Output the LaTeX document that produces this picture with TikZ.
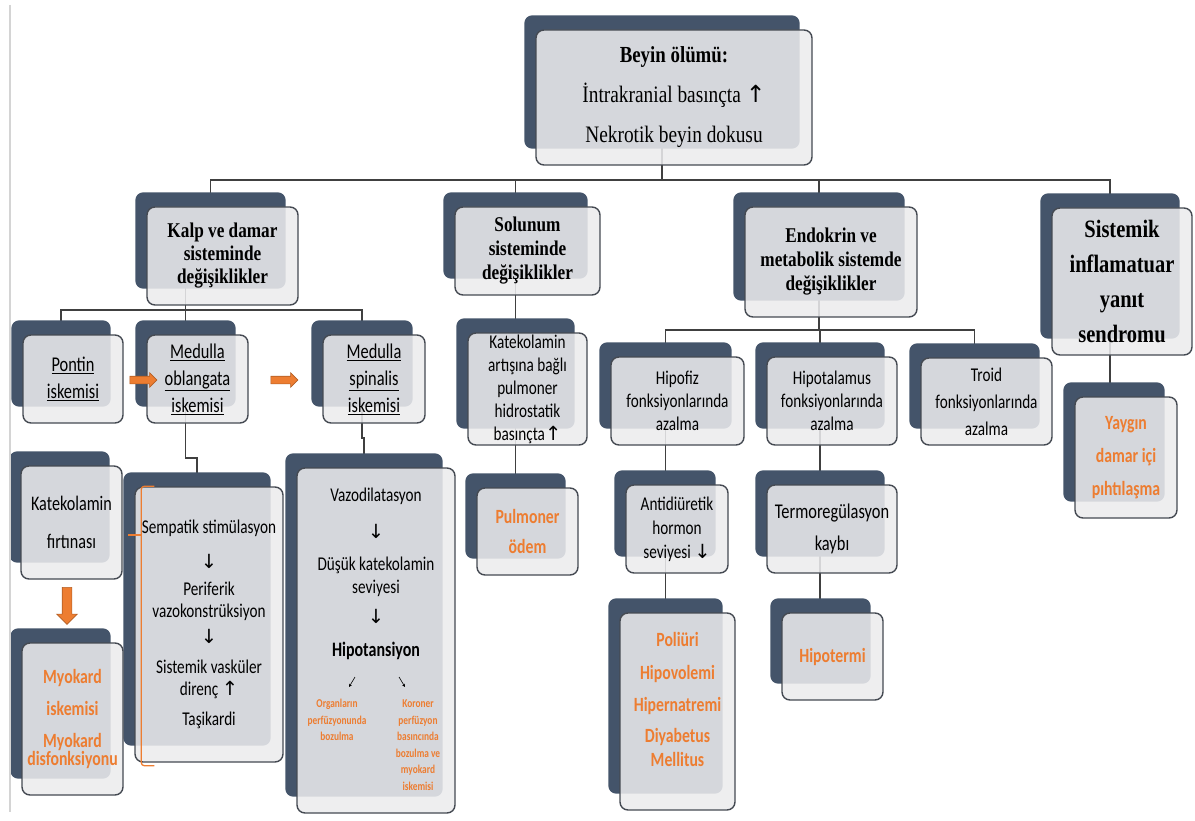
\documentclass[tikz,border=0pt]{standalone}
\usepackage{fontspec}
\setmainfont[FakeStretch=0.82]{Liberation Serif}
\newfontfamily\cardsans[FakeStretch=0.78]{Carlito}
\newfontfamily\arrowsym{DejaVu Sans}
\usetikzlibrary{positioning, calc, arrows.meta, shapes.arrows}
\definecolor{slate}{HTML}{44546A}
\definecolor{cardfill}{HTML}{EBEBED}
\definecolor{cardline}{HTML}{454A52}
\definecolor{linkgray}{HTML}{404040}
\definecolor{alertorange}{HTML}{ED7D31}
\definecolor{edgegray}{HTML}{D4D4D4}
\newcommand{\upar}{{\arrowsym\char"2191}}
\newcommand{\dnar}{{\arrowsym\char"2193}}
\pgfdeclarelayer{wires}
\pgfdeclarelayer{backs}
\pgfsetlayers{wires,backs,main}

\begin{document}
\begin{tikzpicture}[x=1pt, y=-1pt,
	card/.style={draw=cardline, line width=1.4pt, rounded corners=8pt, fill=cardfill,
		fill opacity=0.87, text opacity=1, align=center, inner sep=0pt},
	head/.style={card, font=\bfseries\fontsize{21}{23}\selectfont},
	body/.style={card, font=\cardsans\fontsize{19.5}{23}\selectfont},
	alert/.style={card, text=alertorange, font=\cardsans\bfseries\fontsize{20.2}{30}\selectfont},
	cardback/.style={fill=slate, rounded corners=8pt},
	link/.style={draw=linkgray, line width=1.3pt},
	brace/.style={draw=alertorange, line width=1.3pt, rounded corners=3pt},
	bigarrow/.style={single arrow, draw=alertorange!75!black, fill=alertorange, line width=0.6pt,
		inner sep=3.5pt, minimum height=27pt, single arrow head extend=3.5pt},
	tinyarrow/.style={-{Stealth[length=3pt, width=3pt]}, draw=black, line width=0.6pt},
	pageedge/.style={draw=edgegray, line width=1.5pt}]
	
	\useasboundingbox (0,0) rectangle (1195,821);
	\draw[pageedge] (10,5) -- (10,812);
	
	%Nodes
	\node (top) at (674,97.5) [card, font=\fontsize{23.6}{40}\selectfont, minimum width=276pt,
	minimum height=135pt]{{\bfseries\fontsize{23}{40}\selectfont Beyin ölümü:}\\
		İntrakranial basınçta \upar\\ Nekrotik beyin dokusu};
	
	\node (kalp) at (222.5,256) [head, minimum width=151pt, minimum height=98pt]{Kalp ve damar\\
		sisteminde\\ değişiklikler};
	\node (solunum) at (527.5,251) [head, font=\bfseries\fontsize{21}{24}\selectfont,
	minimum width=145pt, minimum height=88pt]{Solunum\\ sisteminde\\ değişiklikler};
	\node (endokrin) at (831,262) [head, font=\bfseries\fontsize{21}{24}\selectfont,
	minimum width=172pt, minimum height=110pt]{Endokrin ve\\ metabolik sistemde\\ değişiklikler};
	\node (sistemik) at (1122,281.5) [head, font=\bfseries\fontsize{25}{35}\selectfont,
	minimum width=140pt, minimum height=147pt]{Sistemik\\ inflamatuar\\ yanıt\\ sendromu};
	
	\node (pontin) at (73,379) [body, font=\cardsans\fontsize{21}{27}\selectfont,
	minimum width=100pt, minimum height=88pt]{\underline{Pontin}\\ \underline{iskemisi}};
	\node (oblangata) at (197.5,379) [body, font=\cardsans\fontsize{21}{27}\selectfont,
	minimum width=101pt, minimum height=88pt]{\underline{Medulla}\\ \underline{oblangata}\\
		\underline{iskemisi}};
	\node (spinalis) at (374,379) [body, font=\cardsans\fontsize{21}{27}\selectfont,
	minimum width=102pt, minimum height=88pt]{\underline{Medulla}\\ \underline{spinalis}\\
		\underline{iskemisi}};
	
	\node (katpulm) at (527.5,389) [body, minimum width=119pt, minimum height=112pt]{Katekolamin\\
		artışına bağlı\\ pulmoner\\ hidrostatik\\ basınçta\upar};
	\node (pulmoner) at (527.5,531.5) [alert, minimum width=101pt, minimum height=87pt]{Pulmoner\\
		ödem};
	
	\node (hipofiz) at (677.5,401) [body, minimum width=133pt, minimum height=88pt]{Hipofiz\\
		fonksiyonlarında\\ azalma};
	\node (hipotalamus) at (832,401) [body, minimum width=130pt, minimum height=88pt]{Hipotalamus\\
		fonksiyonlarında\\ azalma};
	\node (troid) at (986.5,401.5) [body, font=\cardsans\fontsize{19.5}{27}\selectfont,
	minimum width=131pt, minimum height=87pt]{Troid\\ fonksiyonlarında\\ azalma};
	\node (yaygin) at (1126,457.5) [alert, font=\cardsans\bfseries\fontsize{20.2}{33}\selectfont,
	minimum width=102pt, minimum height=121pt]{Yaygın\\ damar içi\\ pıhtılaşma};
	
	\node (adh) at (677,529) [body, font=\cardsans\fontsize{19.5}{24}\selectfont,
	minimum width=102pt, minimum height=88pt]{Antidiüretik\\ hormon\\ seviyesi \dnar};
	\node (termo) at (832,529) [body, font=\cardsans\fontsize{21}{32}\selectfont,
	minimum width=130pt, minimum height=88pt]{Termoregülasyon\\ kaybı};
	\node (poliuri) at (677.5,711.5) [alert, font=\cardsans\bfseries\fontsize{20.2}{24}\selectfont,
	minimum width=115pt, minimum height=197pt]{Poliüri\\[9pt] Hipovolemi\\[8pt] Hipernatremi\\[7pt]
		Diyabetus\\ Mellitus\\ ~};
	\node (hipotermi) at (832.5,656.5) [alert, minimum width=101pt, minimum height=87pt]{Hipotermi};
	
	\node (katfirtina) at (71.5,522.5) [body, font=\cardsans\fontsize{20.7}{38}\selectfont,
	minimum width=101pt, minimum height=113pt]{Katekolamin\\ fırtınası};
	\node (myokard) at (72.5,719) [alert, font=\cardsans\bfseries\fontsize{20.2}{17}\selectfont,
	minimum width=101pt, minimum height=152pt]{Myokard\\[13pt] iskemisi\\[15pt] Myokard\\
		disfonksiyonu};
	\node (sempatik) at (209,624.5) [body, font=\cardsans\fontsize{19.5}{22}\selectfont,
	minimum width=148pt, minimum height=275pt]{Sempatik stimülasyon\\[13pt] \dnar\\[5pt] Periferik\\
		vazokonstrüksiyon\\[4pt] \dnar\\[8pt] Sistemik vasküler\\ direnç \upar\\[8pt] Taşikardi};
	
	\node (vazo) at (376,640.5) [body, minimum width=158pt, minimum height=345pt]{};
	\node (vazotxt) at (376,574) [font=\cardsans\fontsize{19.5}{23}\selectfont, align=center]{Vazodilatasyon\\[14pt]
		\dnar\\[9pt] Düşük katekolamin\\ seviyesi\\[7pt] \dnar\\[10pt]
		{\bfseries\fontsize{20.5}{23}\selectfont Hipotansiyon}};
	\node (organ) at (337,720) [text=alertorange, font=\cardsans\bfseries\fontsize{12}{16.5}\selectfont,
	align=center]{Organların\\ perfüzyonunda\\ bozulma};
	\node (koroner) at (418,745) [text=alertorange, font=\cardsans\bfseries\fontsize{12}{16.5}\selectfont,
	align=center]{Koroner\\ perfüzyon\\ basıncında\\ bozulma ve\\ myokard\\ iskemisi};
	
	%Shadows
	\begin{pgfonlayer}{backs}
		\foreach \n in {top,kalp,solunum,endokrin,sistemik,pontin,oblangata,spinalis,katpulm,pulmoner,
			hipofiz,hipotalamus,troid,yaygin,adh,termo,poliuri,hipotermi,katfirtina,myokard,sempatik,vazo}{
			\fill[cardback] ([shift={(-11,-17)}]\n.south west) rectangle ([shift={(-13,-14)}]\n.north east);
			\coordinate (\n-c) at ([xshift=-12pt]\n.center);
		}
	\end{pgfonlayer}
	
	%Links
	\coordinate (bus) at (0,180);
	\coordinate (kbus) at (0,310);
	\coordinate (ebus) at (0,330);
	\coordinate (jog1) at (0,458);
	\coordinate (jog2) at (0,438);
	\begin{pgfonlayer}{wires}
		\draw[link] (top-c) -- (top-c |- bus);
		\draw[link] (kalp-c) -- (kalp-c |- bus) -- (sistemik-c |- bus) -- (sistemik-c);
		\draw[link] (solunum-c) -- (solunum-c |- bus);
		\draw[link] (endokrin-c) -- (endokrin-c |- bus);
		\draw[link] (oblangata-c |- kalp.center) -- (oblangata-c);
		\draw[link] (pontin-c) -- (pontin-c |- kbus) -- (spinalis-c |- kbus) -- (spinalis-c);
		\draw[link] (solunum-c) -- (solunum-c |- pulmoner-c);
		\draw[link] (endokrin-c) -- (endokrin-c |- ebus);
		\draw[link] (hipofiz-c) -- (hipofiz-c |- ebus) -- (troid-c |- ebus) -- (troid-c);
		\draw[link] (hipotalamus-c) -- (hipotalamus-c |- ebus);
		\draw[link] (hipofiz-c) -- (hipofiz-c |- poliuri-c);
		\draw[link] (hipotalamus-c) -- (hipotalamus-c |- hipotermi-c);
		\draw[link] (sistemik-c) -- (sistemik-c |- yaygin-c);
		\draw[link] (oblangata-c) -- (oblangata-c |- jog1) -| (sempatik-c);
		\draw[link] (spinalis-c) -- (spinalis-c |- jog2) -| (vazo-c);
	\end{pgfonlayer}
	
	%Arrows
	\node (arr1) at (141.5,380) [bigarrow]{};
	\node (arr2) at (282.5,380) [bigarrow]{};
	\node (arr3) at (67,603.5) [bigarrow, shape border rotate=270, inner sep=4.5pt, minimum height=37pt,
	single arrow head extend=5.5pt]{};
	\coordinate (bracetip) at (128,535);
	\draw[brace] ([xshift=20pt]sempatik.north west) -| ([xshift=7pt, yshift=-3pt]sempatik.south west)
	-- ++(13,0);
	\draw[brace] (bracetip) -- ++(14,0);
	\coordinate (hl) at (352,682);
	\coordinate (hr) at (402,682);
	\draw[tinyarrow] ([shift={(3,-5)}]hl) -- ([shift={(-3,5)}]hl);
	\draw[tinyarrow] ([shift={(-3,-5)}]hr) -- ([shift={(3,5)}]hr);
	
\end{tikzpicture}
\end{document}
